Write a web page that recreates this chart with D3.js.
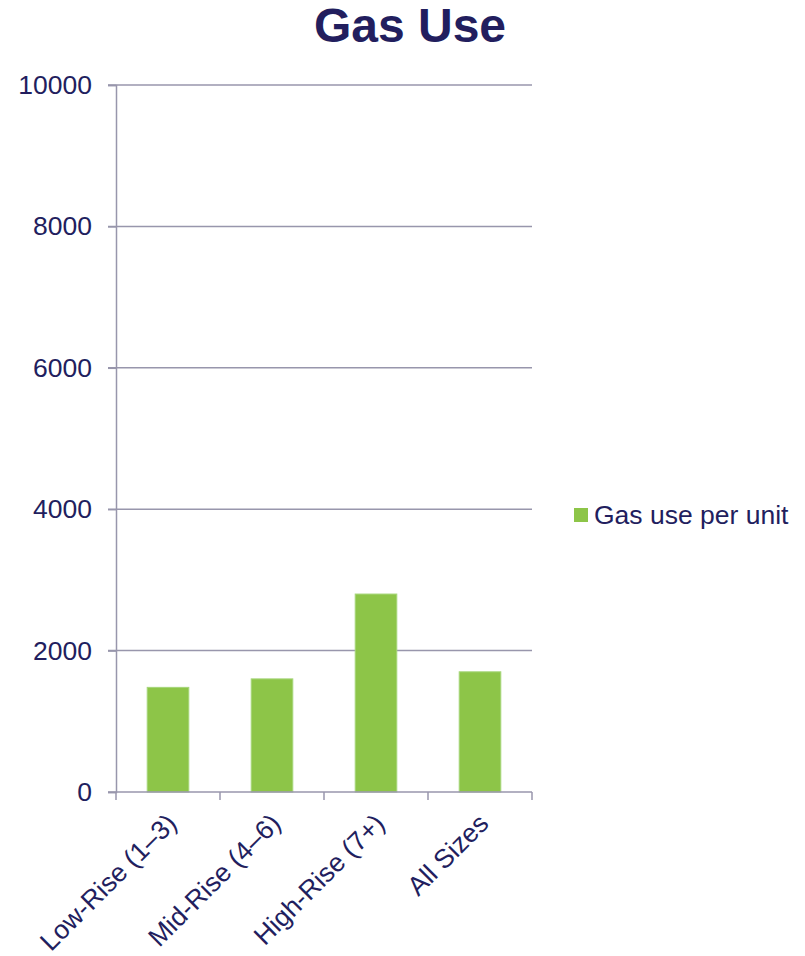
<!DOCTYPE html>
<html>
<head>
<meta charset="utf-8">
<script src="https://cdn.jsdelivr.net/npm/d3@7/dist/d3.min.js"></script>
<style>
  html, body { margin: 0; padding: 0; background: #ffffff; }
  svg { display: block; font-family: "Liberation Sans", Arial, sans-serif; }
</style>
</head>
<body>
<svg id="chart" width="805" height="956"></svg>
<script>
// Gas use per unit by building size
const categories = ["Low-Rise (1\u20133)", "Mid-Rise (4\u20136)", "High-Rise (7+)", "All Sizes"];
const gasUse = [1480, 1600, 2800, 1700];
const yTicks = [0, 2000, 4000, 6000, 8000, 10000];
const seriesName = "Gas use per unit";
const title = "Gas Use";

const textColor = "#221E5E";
const axisColor = "#9896AC";
const barColor = "#8DC548";
const fontFamily = "'Liberation Sans', Arial, sans-serif";
const labelSize = 26.5;

const svg = d3.select("#chart");
const plot = { left: 116, right: 532, top: 85, bottom: 792 };

const x = d3.scaleBand().domain(categories).range([plot.left, plot.right]).paddingInner(0.6).paddingOuter(0.3);
const y = d3.scaleLinear().domain([0, 10000]).range([plot.bottom, plot.top]);

// Title
svg.append("text")
  .attr("x", 410).attr("y", 42)
  .attr("text-anchor", "middle")
  .attr("font-size", 48).attr("font-weight", "bold")
  .attr("fill", textColor)
  .text(title);

// Horizontal gridlines
svg.append("g").selectAll("line").data(yTicks.filter(t => t > 0)).join("line")
  .attr("x1", plot.left - 8).attr("x2", plot.right)
  .attr("y1", d => y(d)).attr("y2", d => y(d))
  .attr("stroke", axisColor).attr("stroke-width", 1.5);

// Y axis
const yAxis = svg.append("g").attr("transform", `translate(${plot.left},0)`)
  .call(d3.axisLeft(y).tickValues(yTicks).tickSize(8).tickPadding(16).tickFormat(d3.format("d")));
yAxis.select(".domain").attr("stroke", axisColor).attr("stroke-width", 1.5);
yAxis.selectAll(".tick line").attr("stroke", axisColor).attr("stroke-width", 1.5);
yAxis.selectAll(".tick text").attr("fill", textColor).attr("font-size", labelSize)
  .attr("font-family", fontFamily);

// Bars
svg.append("g").selectAll("rect").data(categories).join("rect")
  .attr("x", d => x(d))
  .attr("y", (d, i) => y(gasUse[i]))
  .attr("width", x.bandwidth())
  .attr("height", (d, i) => y(0) - y(gasUse[i]))
  .attr("fill", barColor)
  .attr("stroke", "#A6D67A").attr("stroke-width", 1);

// X axis line and category boundary ticks
const xb = d3.scaleLinear().domain([0, categories.length]).range([plot.left, plot.right]);
svg.append("line")
  .attr("x1", plot.left - 8).attr("x2", plot.right)
  .attr("y1", y(0)).attr("y2", y(0))
  .attr("stroke", axisColor).attr("stroke-width", 1.5);
svg.append("g").selectAll("line").data(d3.range(categories.length + 1)).join("line")
  .attr("x1", d => xb(d)).attr("x2", d => xb(d))
  .attr("y1", y(0)).attr("y2", y(0) + 8)
  .attr("stroke", axisColor).attr("stroke-width", 1.5);

// Rotated category labels
svg.append("g").selectAll("text").data(categories).join("text")
  .attr("transform", d => `translate(${x(d) + x.bandwidth() / 2 - 3},${y(0) + 20}) rotate(-45)`)
  .attr("text-anchor", "end")
  .attr("dy", "0.7em")
  .attr("font-size", labelSize)
  .attr("fill", textColor)
  .text(d => d);

// Legend
const legend = svg.append("g").attr("transform", "translate(574,515)");
legend.append("rect").attr("x", 0).attr("y", -7).attr("width", 14).attr("height", 14).attr("fill", barColor);
legend.append("text").attr("x", 20).attr("y", 0).attr("dy", "0.35em")
  .attr("font-size", labelSize).attr("fill", textColor).text(seriesName);
</script>
</body>
</html>
